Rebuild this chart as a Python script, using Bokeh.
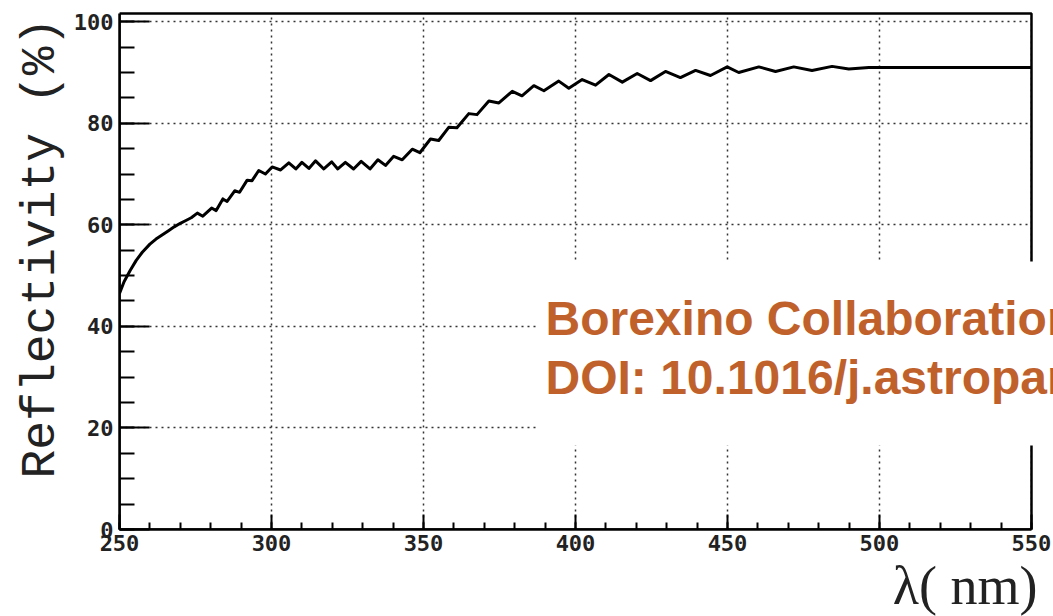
from bokeh.plotting import figure
from bokeh.models import Range1d, FixedTicker, Label, BoxAnnotation, Title
from bokeh.embed import file_html
from bokeh.resources import INLINE

# ---- data ----
wavelength = [250.0, 251.5, 253.5, 255.5, 257.5, 260.0, 262.0, 264.0, 266.0, 268.0,
              270.0, 272.0, 273.6, 275.6, 277.4, 280.3, 281.8, 284.0, 285.4, 287.9,
              289.5, 292.0, 293.6, 295.8, 298.0, 300.2, 303.0, 305.7, 308.0, 310.0,
              312.3, 314.5, 317.2, 319.8, 321.8, 324.3, 327.0, 329.5, 332.4, 335.0,
              337.5, 340.2, 343.0, 346.3, 348.8, 352.3, 355.0, 358.3, 361.0, 364.9,
              367.6, 371.5, 374.8, 379.2, 382.4, 386.3, 389.6, 394.5, 397.8, 402.2,
              406.6, 411.0, 415.4, 420.3, 424.7, 429.6, 434.5, 439.5, 444.4, 449.9,
              453.7, 460.3, 465.8, 471.8, 477.8, 484.4, 489.9, 496.5, 507.0, 550.0]
reflectivity = [46.5, 48.8, 51.0, 53.0, 54.6, 56.2, 57.2, 58.0, 58.8, 59.6,
                60.3, 60.9, 61.4, 62.3, 61.7, 63.3, 62.8, 65.1, 64.6, 66.7,
                66.4, 68.8, 68.7, 70.7, 70.0, 71.4, 70.8, 72.2, 71.0, 72.3,
                71.1, 72.6, 71.0, 72.4, 71.0, 72.3, 71.0, 72.5, 71.0, 72.8,
                71.7, 73.5, 72.8, 74.9, 74.2, 76.9, 76.6, 79.2, 79.1, 81.9,
                81.7, 84.4, 84.0, 86.3, 85.4, 87.4, 86.4, 88.3, 86.9, 88.6,
                87.5, 89.6, 88.1, 89.8, 88.4, 90.2, 89.0, 90.4, 89.4, 91.1,
                90.0, 91.1, 90.2, 91.1, 90.4, 91.2, 90.7, 91.0, 91.0, 91.0]

x_min, x_max = 250, 550
y_min, y_max = 0, 101.6
x_major = [250, 300, 350, 400, 450, 500, 550]
x_minor = list(range(250, 551, 10))
y_major = [0, 20, 40, 60, 80, 100]
y_minor = list(range(0, 101, 5))

y_title = "Reflectivity (%)"
x_title = "λ( nm)"
note_line1 = "Borexino Collaboration"
note_line2 = "DOI: 10.1016/j.astropartphys"

# ---- figure: frame runs to the right window edge so the note is cut there ----
p = figure(width=1053, height=616, output_backend="svg", toolbar_location=None,
           x_range=Range1d(x_min, 557.24), y_range=Range1d(y_min, 102.6),
           min_border_left=119, min_border_right=0, min_border_top=8,
           min_border_bottom=87)
p.background_fill_color = "white"
p.border_fill_color = "white"
p.outline_line_color = None

for g in (p.xgrid[0], p.ygrid[0]):
    g.grid_line_color = "#333333"
    g.grid_line_width = 1.5
    g.grid_line_dash = "2 4"

# white masks outside the data box (hide grid parts beyond the frame)
p.add_layout(BoxAnnotation(left=x_max, right=600, bottom=-10, top=120,
                           fill_color="white", fill_alpha=1.0, line_color=None,
                           level="underlay"))
p.add_layout(BoxAnnotation(left=200, right=600, bottom=y_max, top=120,
                           fill_color="white", fill_alpha=1.0, line_color=None,
                           level="underlay"))

p.line(wavelength, reflectivity, line_color="black", line_width=3, line_join="round")

# frame
p.add_layout(BoxAnnotation(left=x_min, right=x_max, bottom=y_min, top=y_max,
                           fill_alpha=0, line_color="black", line_alpha=1.0,
                           line_width=2.5, level="annotation"))

xa = p.xaxis[0]
xa.ticker = FixedTicker(ticks=x_major, minor_ticks=x_minor)
xa.bounds = (x_min, x_max)
xa.major_tick_in = 15
xa.major_tick_out = 0
xa.minor_tick_in = 7
xa.minor_tick_out = 0
xa.major_label_standoff = 5

ya = p.yaxis[0]
ya.ticker = FixedTicker(ticks=y_major, minor_ticks=y_minor)
ya.bounds = (y_min, y_max)
ya.major_tick_in = 30
ya.major_tick_out = 0
ya.minor_tick_in = 15
ya.minor_tick_out = 0
ya.major_label_standoff = 6

for ax in (xa, ya):
    ax.axis_line_width = 2.5
    ax.axis_line_color = "black"
    ax.major_tick_line_width = 2
    ax.minor_tick_line_width = 2
    ax.major_tick_line_color = "black"
    ax.minor_tick_line_color = "black"
    ax.major_label_text_font = "DejaVu Sans Mono"
    ax.major_label_text_font_style = "bold"
    ax.major_label_text_font_size = "22px"
    ax.major_label_text_color = "#222222"

# axis titles in side panels
p.add_layout(Title(text=y_title, align="left", offset=51, standoff=6,
                   text_font="Liberation Mono", text_font_size="48px",
                   text_font_style="normal", text_color="#222222"), "left")
p.add_layout(Title(text=x_title, align="right", offset=16, standoff=0,
                   text_font="Liberation Serif", text_font_size="54px",
                   text_font_style="normal", text_color="#222222"), "below")

# white box with the citation
p.add_layout(BoxAnnotation(left=418, right=960, bottom=84, top=268,
                           left_units="screen", right_units="screen",
                           bottom_units="screen", top_units="screen",
                           fill_color="white", fill_alpha=1.0, line_color=None,
                           level="overlay"))
for txt, yy in ((note_line1, 211), (note_line2, 152)):
    p.add_layout(Label(x=426, y=yy, x_units="screen", y_units="screen", text=txt,
                       text_font="Liberation Sans", text_font_style="bold",
                       text_font_size="48px", text_color="#C0612B",
                       text_align="left", text_baseline="alphabetic", level="overlay"))

open("out.html", "w").write(file_html(p, INLINE))
